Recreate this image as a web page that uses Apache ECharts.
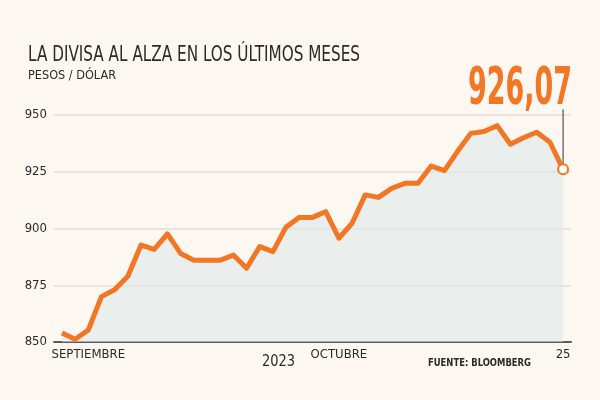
<!DOCTYPE html>
<html><head><meta charset="utf-8">
<script src="https://cdn.jsdelivr.net/npm/echarts@6/dist/echarts.min.js"></script>
<style>html,body{margin:0;padding:0;background:#fdf7f2}#c{width:600px;height:400px}</style>
</head><body><div id="c"></div>
<script>
// Pesos por dólar, cierres diarios (septiembre - 25 de octubre de 2023)
const values = [854.0, 851.2, 855.3, 870.0, 873.0, 879.0, 892.7, 890.8, 897.6, 889.0,
  886.0, 886.0, 886.0, 888.3, 882.5, 892.0, 889.8, 900.7, 904.9, 904.9,
  907.4, 895.7, 902.3, 914.8, 913.7, 917.7, 919.9, 919.9, 927.5, 925.5,
  934.0, 941.9, 942.7, 945.3, 937.1, 940.0, 942.4, 938.0, 926.07];
const xLabelPositions = [2, 21, 38];
const xLabelTexts = ['SEPTIEMBRE', 'OCTUBRE', '25'];
const yMin = 850, yMax = 950, yStep = 25;
const titleText = 'LA DIVISA AL ALZA EN LOS ÚLTIMOS MESES';
const subtitleText = 'PESOS / DÓLAR';
const lastValueText = '926,07';
const yearText = '2023';
const sourceText = 'FUENTE: BLOOMBERG';

const NARROW = "'Liberation Sans Narrow', 'DejaVu Sans Condensed', 'Liberation Sans', sans-serif";
const ORANGE = '#f27623';
const ctx = document.createElement('canvas').getContext('2d');
function fit(text, weight, size, family, target) {
  ctx.font = weight + ' ' + size + 'px ' + family;
  return target / ctx.measureText(text).width;
}

const chart = echarts.init(document.getElementById('c'), null, {renderer: 'canvas'});
const lastIdx = values.length - 1;
chart.setOption({
  backgroundColor: '#fdf7f2',
  animation: false,
  grid: {left: 54, right: 29, top: 115, bottom: 58},
  xAxis: {
    type: 'value', min: -0.6, max: lastIdx + 0.6,
    splitLine: {show: false},
    axisTick: {show: false},
    axisLine: {show: true, lineStyle: {color: '#5a5a5a', width: 2}},
    axisLabel: {
      customValues: xLabelPositions,
      formatter: v => xLabelTexts[xLabelPositions.indexOf(v)] || '',
      fontFamily: NARROW, fontSize: 13, color: '#2b2b2b', margin: 6
    }
  },
  yAxis: {
    type: 'value', min: yMin, max: yMax, interval: yStep,
    axisLine: {show: false}, axisTick: {show: false},
    axisLabel: {fontFamily: NARROW, fontSize: 13, color: '#2b2b2b', margin: 7},
    splitLine: {lineStyle: {color: '#e6ddd4', width: 1.5}}
  },
  series: [{
    type: 'line',
    data: values.map((v, i) => [i, v]),
    showAllSymbol: true,
    symbol: 'circle',
    symbolSize: (val, p) => p.dataIndex === lastIdx ? 10 : 0,
    itemStyle: {color: '#ffffff', borderColor: ORANGE, borderWidth: 2},
    lineStyle: {color: ORANGE, width: 5, join: 'round'},
    areaStyle: {color: 'rgba(222,231,233,0.85)', origin: 'start'},
    z: 3
  }]
});

const p = chart.convertToPixel({gridIndex: 0}, [lastIdx, values[lastIdx]]);
const sT = fit(titleText, 'normal', 21, NARROW, 332);
const sS = fit(subtitleText, 'normal', 13, NARROW, 88);
const sN = fit(lastValueText, 'bold', 52, NARROW, 104);
const sY = fit(yearText, 'normal', 15, NARROW, 33);
const sF = fit(sourceText, 'bold', 10.5, NARROW, 103);
chart.setOption({
  graphic: [
    {type: 'text', x: 28, y: 55.5, scaleX: sT, style: {text: titleText, fontFamily: NARROW, fontSize: 21, fill: '#2a2a2a', align: 'left', verticalAlign: 'middle'}},
    {type: 'text', x: 28, y: 75.5, scaleX: sS, style: {text: subtitleText, fontFamily: NARROW, fontSize: 13, fill: '#2a2a2a', align: 'left', verticalAlign: 'middle'}},
    {type: 'line', z: 2, shape: {x1: p[0], y1: p[1] - 5, x2: p[0], y2: p[1] - 60}, style: {stroke: '#333', lineWidth: 1}},
    {type: 'text', x: p[0] + 9, y: p[1] - 79, scaleX: sN, style: {text: lastValueText, fontFamily: NARROW, fontWeight: 'bold', fontSize: 52, fill: ORANGE, align: 'right', verticalAlign: 'middle'}},
    {type: 'text', x: 278.5, y: 362, scaleX: sY, style: {text: yearText, fontFamily: NARROW, fontSize: 15, fill: '#2a2a2a', align: 'center', verticalAlign: 'middle'}},
    {type: 'text', x: 531, y: 363.5, scaleX: sF, style: {text: sourceText, fontFamily: NARROW, fontWeight: 'bold', fontSize: 10.5, fill: '#2a2a2a', align: 'right', verticalAlign: 'middle'}}
  ]
});
</script></body></html>
